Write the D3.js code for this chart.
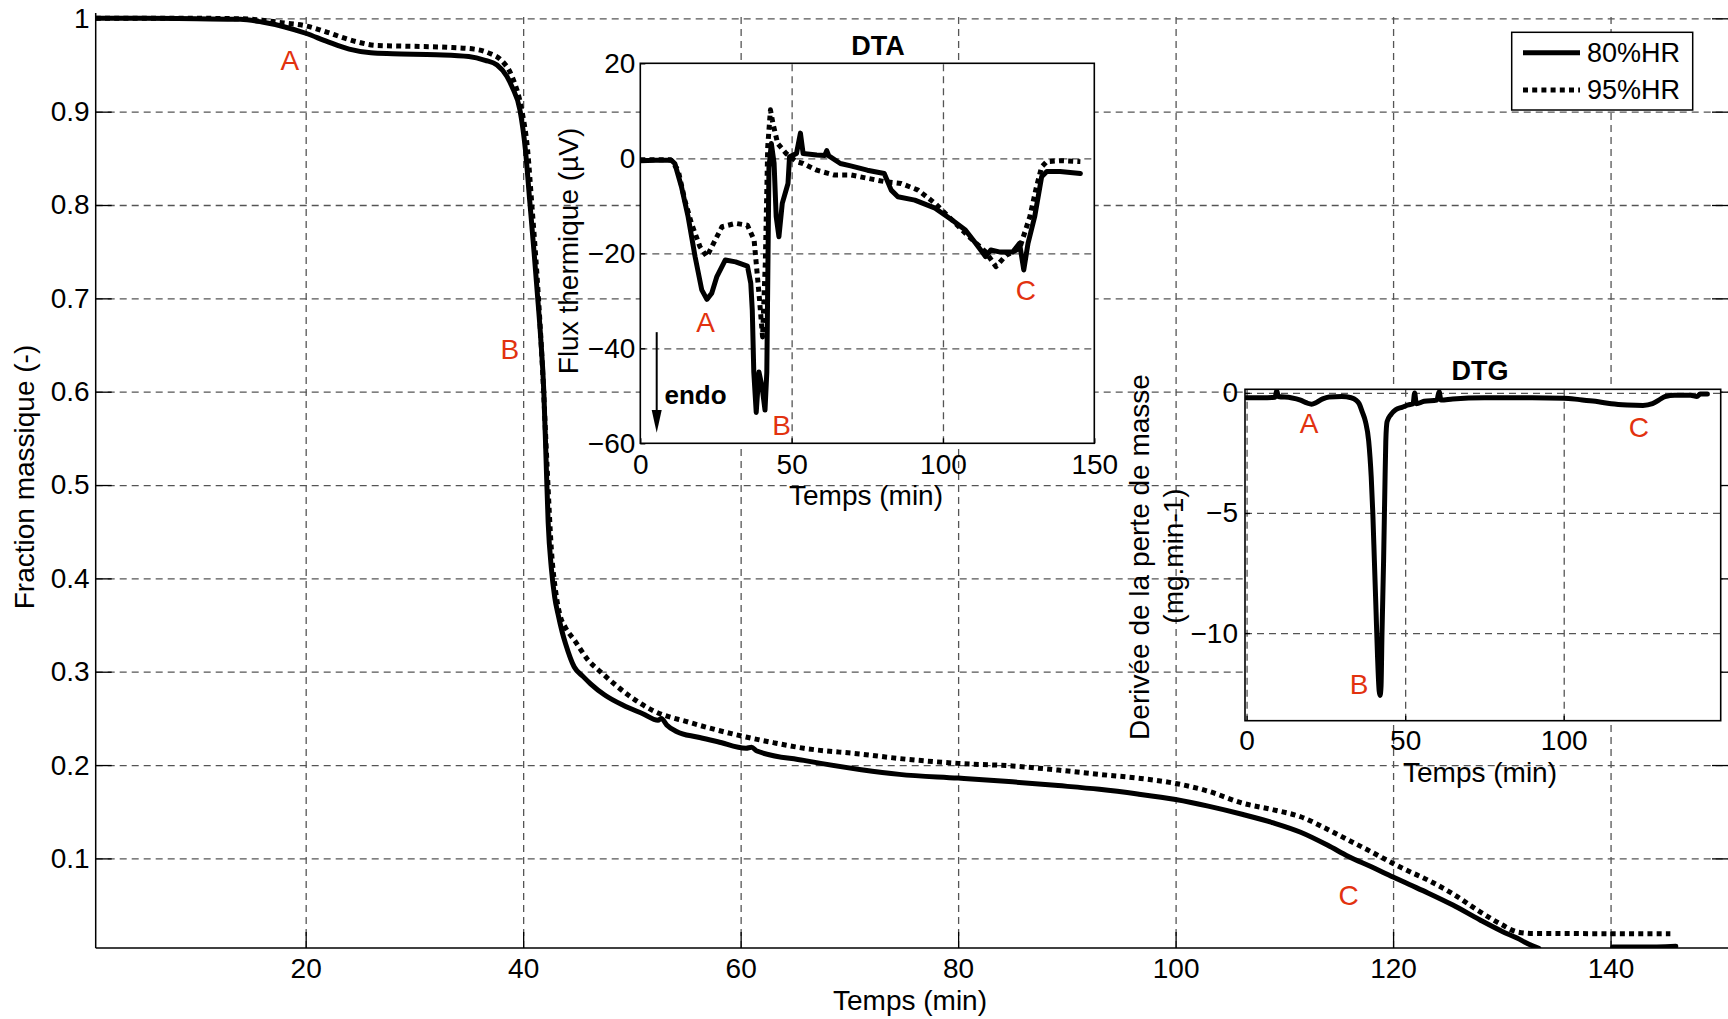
<!DOCTYPE html>
<html><head><meta charset="utf-8">
<script src="https://cdn.jsdelivr.net/npm/d3@7"></script>
<style>
body{margin:0;background:#fff;overflow:hidden;}
svg{display:block;}
text{font-family:"Liberation Sans",Arial,Helvetica,sans-serif;}
</style></head><body>
<svg id="chart" width="1728" height="1019"></svg>
<script>
// ---------- DATA ----------
const seriesNames = ["80%HR", "95%HR"];

// Main TG curve: [time (min), mass fraction]
const tg80 = [[0.7,1.0],[5,1.0],[10,0.9995],[14,0.999],[16,0.996],[18,0.991],[20,0.984],[22,0.975],[24,0.967],[26,0.963],[28,0.962],[32,0.961],[35,0.959],[36.5,0.955],[37.6,0.950],[38.5,0.938],[39.0,0.926],[39.7,0.902],[40.2,0.86],[40.6,0.805],[41.0,0.75],[41.3,0.706],[41.6,0.66],[41.9,0.60],[42.1,0.53],[42.3,0.46],[42.6,0.41],[42.9,0.38],[43.2,0.362],[43.6,0.342],[43.9,0.33],[44.7,0.305],[45.5,0.295],[46.2,0.287],[47.5,0.275],[49.2,0.264],[51,0.255],[52.4,0.248],[52.7,0.250],[53.2,0.243],[54.1,0.236],[56,0.230],[57.9,0.225],[60.5,0.218],[61,0.219],[61.5,0.215],[65.8,0.205],[71.1,0.195],[74.6,0.190],[80,0.186],[85,0.182],[89.2,0.178],[93,0.174],[96.5,0.169],[100,0.163],[103,0.156],[106.2,0.147],[109,0.138],[111.5,0.128],[114,0.114],[115.9,0.102],[118,0.091],[120,0.080],[121.5,0.072],[123.2,0.063],[125.5,0.050],[128,0.034],[130,0.022],[131.4,0.0146],[132.5,0.008],[133.4,0.0036],[136,null],[140.2,0.005],[143,0.005],[146,0.006]];
const tg95 = [[0.7,1.0],[10,1.0],[14,0.9995],[16,0.998],[18,0.995],[20,0.992],[22,0.985],[23.5,0.979],[25,0.974],[26.5,0.971],[30,0.970],[33,0.969],[35.5,0.967],[37,0.962],[38,0.955],[39,0.937],[39.9,0.90],[40.4,0.86],[40.8,0.80],[41.3,0.72],[41.8,0.62],[42.2,0.52],[42.6,0.43],[43.0,0.385],[43.4,0.36],[43.9,0.347],[44.7,0.334],[46,0.312],[47.3,0.298],[49.9,0.273],[52,0.258],[55.2,0.246],[58,0.237],[60.5,0.230],[63,0.224],[65.8,0.218],[71.1,0.2117],[74.6,0.207],[80,0.2018],[85,0.199],[89.2,0.1946],[93,0.19],[96.5,0.186],[100,0.1803],[103,0.172],[106.2,0.159],[109,0.152],[111.5,0.1446],[114,0.131],[115.9,0.1196],[118,0.107],[120,0.0946],[121.5,0.086],[123.2,0.0768],[125.5,0.062],[128,0.0428],[130,0.029],[131.4,0.0213],[132.9,0.0195],[135.3,0.0195],[140,0.0193],[145.5,0.0193]];

// DTA inset: [time (min), heat flux (µV)]
const dta80 = [[0,-0.5],[5,-0.4],[10.2,-0.4],[11.4,-1.1],[13.6,-6],[15.8,-12.3],[18.1,-20.7],[20.3,-27.7],[22,-29.7],[23.6,-28.4],[25.3,-24.9],[28.1,-21.4],[31.5,-21.8],[35.4,-22.7],[36.5,-26.3],[37.0,-32],[37.5,-45],[38.3,-53.5],[39.2,-45],[40.2,-48],[41.2,-53],[41.8,-45],[42.5,-2],[43.3,3.1],[44.2,-1],[44.9,-12.3],[45.8,-16.5],[46.9,-9.5],[48.8,-5.3],[49.3,0.3],[51.6,1],[52.9,5.3],[53.8,1],[58.3,0.7],[61.0,0.6],[61.6,1.6],[62.3,0.5],[66.1,-1.1],[69.5,-1.6],[75,-2.5],[80.6,-3.2],[82.9,-6.7],[85.1,-8.1],[90.7,-8.8],[97.4,-10.5],[103,-13],[107.4,-15.1],[110.8,-17.9],[114.1,-20.7],[115.8,-19.3],[118.6,-19.7],[123.1,-19.7],[125.3,-17.9],[126.7,-23.5],[128.1,-17.9],[130.3,-12.3],[132.6,-3.9],[134.3,-2.8],[138.7,-2.8],[145.4,-3.2]];
const dta95 = [[0,-0.3],[10,-0.3],[12.5,-2.5],[14.7,-8.8],[16.9,-13.7],[19.7,-18.6],[22,-20.7],[24.2,-17.9],[27,-14.4],[31.5,-13.7],[35.4,-14.1],[37.6,-17.2],[39.3,-29.1],[40.4,-37.6],[41.3,-22.1],[42.1,2.4],[43,10.2],[43.8,7.4],[45.4,3.1],[48.2,1],[51.6,-0.7],[53.8,-1.1],[58.3,-2.5],[63.9,-3.5],[69.5,-3.5],[75,-4.2],[80.6,-4.9],[86.2,-5.3],[91.8,-6.7],[97.4,-9.5],[103,-13],[108.6,-16.5],[114.1,-19.7],[117.5,-22.8],[120.9,-20.4],[125.3,-19],[128.7,-12.3],[130.9,-6],[132.6,-1.8],[134.3,-0.7],[138.7,-0.5],[145.4,-0.7]];

// DTG inset: [time (min), mass-loss derivative (mg/min)]
const dtg80 = [[0,-0.2],[5,-0.2],[9,-0.18],[9.5,0.1],[10,-0.15],[14,-0.2],[17,-0.3],[19,-0.42],[20.5,-0.47],[22,-0.4],[24,-0.25],[26,-0.17],[30,-0.15],[33,-0.2],[34.5,-0.3],[35.5,-0.45],[36.5,-0.8],[37.5,-1.2],[38.5,-2],[39.3,-3.5],[39.8,-5],[40.3,-7],[40.8,-9],[41.3,-11],[41.8,-12.4],[42.1,-12.6],[42.4,-12.2],[42.7,-10],[43.2,-7],[43.6,-4],[43.9,-2],[44.3,-1.2],[45.5,-0.9],[47,-0.7],[49,-0.6],[51,-0.5],[52.5,-0.45],[53,0.0],[53.5,-0.45],[56,-0.35],[60,-0.3],[60.7,0.05],[61.3,-0.3],[65,-0.25],[75,-0.2],[90,-0.2],[100,-0.22],[105,-0.28],[110,-0.35],[115,-0.45],[120,-0.5],[125,-0.52],[128,-0.45],[130,-0.3],[132,-0.15],[135,-0.1],[140,-0.1],[142,-0.15],[143,-0.05],[145.3,-0.05]];

// Tick values
const mainXTicks = [20, 40, 60, 80, 100, 120, 140];
const mainYTicks = [0.1, 0.2, 0.3, 0.4, 0.5, 0.6, 0.7, 0.8, 0.9, 1];
const dtaXTicks = [0, 50, 100, 150];
const dtaYTicks = [-60, -40, -20, 0, 20];
const dtaXGrid = [50, 100];
const dtaYGrid = [-40, -20, 0];
const dtgXTicks = [0, 50, 100];
const dtgYTicks = [-10, -5, 0];

// Peak annotations (data coordinates of each panel)
const mainPeaks = [["A",18.55,0.9553],["B",38.78,0.6457],["C",115.9,0.0607]];
const dtaPeaks = [["A",21.54,-34.57],["B",46.65,-56.15],["C",127.4,-27.7]];
const dtgPeaks = [["A",19.69,-1.25],["B",35.46,-12.12],["C",123.67,-1.445]];

// ---------- DRAWING ----------
const svg = d3.select("#chart");
const FS = 28, GRID = "#555", DASH = "7,5", RED = "#e2320f";
const LW = 5;

function grid(g, x, y, xs, ys, x0, x1, y0, y1) {
  const gg = g.append("g");
  gg.append("g").attr("transform", `translate(0,${y0})`)
    .call(d3.axisBottom(x).tickValues(xs).tickSize(-(y0 - y1)).tickFormat(""))
    .call(s => s.select(".domain").remove());
  gg.append("g").attr("transform", `translate(${x0},0)`)
    .call(d3.axisLeft(y).tickValues(ys).tickSize(-(x1 - x0)).tickFormat(""))
    .call(s => s.select(".domain").remove());
  gg.selectAll("line").attr("stroke", GRID).attr("stroke-width", 1.3).attr("stroke-dasharray", DASH);
}
function styleAxis(s) {
  s.selectAll("text").attr("font-size", FS).attr("font-family", "Liberation Sans, Arial, sans-serif").attr("fill", "#000");
  s.selectAll("line").attr("stroke", "#000").attr("stroke-width", 1.3);
  s.select(".domain").remove();
}
function lineGen(x, y, curve) {
  return d3.line().defined(d => d[1] != null).x(d => x(d[0])).y(d => y(d[1])).curve(curve);
}
function drawSeries(g, data, gen, dotted) {
  g.append("path").datum(data).attr("d", gen).attr("fill", "none").attr("stroke", "#000")
    .attr("stroke-width", LW).attr("stroke-linejoin", "round")
    .attr("stroke-linecap", dotted ? "butt" : "round")
    .attr("stroke-dasharray", dotted ? "5,4.2" : null);
}
function peaks(g, list, x, y) {
  g.selectAll(null).data(list).join("text")
    .attr("x", d => x(d[1])).attr("y", d => y(d[2])).attr("dy", "0.35em")
    .attr("text-anchor", "middle").attr("font-size", FS).attr("fill", RED).text(d => d[0]);
}

// ===== Main panel =====
const M = {l: 95.7, r: 1728, t: 13, b: 948};
const xM = d3.scaleLinear().domain([0.69, 150.8]).range([M.l, M.r]);
const yM = d3.scaleLinear().domain([0.004, 1.0057]).range([M.b, M.t]);
const gM = svg.append("g");
grid(gM, xM, yM, mainXTicks, mainYTicks, M.l, M.r, M.b, M.t);
gM.append("g").attr("transform", `translate(0,${M.b})`)
  .call(d3.axisBottom(xM).tickValues(mainXTicks).tickSize(-16).tickPadding(10).tickFormat(d3.format("d")))
  .call(styleAxis);
gM.append("g").attr("transform", `translate(${M.l},0)`)
  .call(d3.axisLeft(yM).tickValues(mainYTicks).tickSize(-16).tickPadding(6).tickFormat(d => d === 1 ? "1" : d3.format(".1f")(d)))
  .call(styleAxis);
gM.append("g").attr("transform", `translate(${M.r},0)`)
  .call(d3.axisRight(yM).tickValues(mainYTicks).tickSize(-16).tickFormat(""))
  .call(styleAxis);
gM.append("line").attr("x1", M.l).attr("x2", M.r).attr("y1", M.b).attr("y2", M.b).attr("stroke", "#000").attr("stroke-width", 1.5);
gM.append("line").attr("x1", M.l).attr("x2", M.l).attr("y1", M.t).attr("y2", M.b).attr("stroke", "#000").attr("stroke-width", 1.5);
svg.append("clipPath").attr("id", "clipM").append("rect").attr("x", M.l).attr("y", M.t - 8).attr("width", M.r - M.l).attr("height", M.b - M.t + 8);
const gML = gM.append("g").attr("clip-path", "url(#clipM)");
const genM = lineGen(xM, yM, d3.curveMonotoneX);
drawSeries(gML, tg95, genM, true);
drawSeries(gML, tg80, genM, false);
peaks(gM, mainPeaks, xM, yM);
gM.append("text").attr("x", 910).attr("y", 1000).attr("dy", "0.35em").attr("text-anchor", "middle").attr("font-size", FS).text("Temps (min)");
gM.append("text").attr("transform", "translate(24,477) rotate(-90)").attr("dy", "0.35em").attr("text-anchor", "middle").attr("font-size", FS).text("Fraction massique (-)");

// ===== Inset builder =====
function inset(cfg) {
  const g = svg.append("g");
  const {x, y, box} = cfg;
  g.append("rect").attr("x", box.l).attr("y", box.t).attr("width", box.r - box.l).attr("height", box.b - box.t).attr("fill", "#fff");
  grid(g, x, y, cfg.xGrid, cfg.yGrid, box.l, box.r, box.b, box.t);
  g.append("g").attr("transform", `translate(0,${box.b})`)
    .call(d3.axisBottom(x).tickValues(cfg.xTicks).tickSize(-5).tickPadding(cfg.xPad).tickFormat(d3.format("d")))
    .call(styleAxis);
  g.append("g").attr("transform", `translate(${box.l},0)`)
    .call(d3.axisLeft(y).tickValues(cfg.yTicks).tickSize(-5).tickPadding(cfg.yPad).tickFormat(d3.format("d")))
    .call(styleAxis);
  const id = "clip" + cfg.name;
  svg.append("clipPath").attr("id", id).append("rect").attr("x", box.l).attr("y", box.t).attr("width", box.r - box.l).attr("height", box.b - box.t);
  const gl = g.append("g").attr("clip-path", `url(#${id})`);
  const gen = lineGen(x, y, cfg.curve);
  cfg.series.forEach(s => drawSeries(gl, s[0], gen, s[1]));
  g.append("rect").attr("x", box.l).attr("y", box.t).attr("width", box.r - box.l).attr("height", box.b - box.t)
    .attr("fill", "none").attr("stroke", "#000").attr("stroke-width", 1.6);
  g.append("text").attr("x", cfg.title[1]).attr("y", cfg.title[2]).attr("dy", "0.35em").attr("text-anchor", "middle")
    .attr("font-size", 27).attr("font-weight", "bold").text(cfg.title[0]);
  g.append("text").attr("x", cfg.xlab[1]).attr("y", cfg.xlab[2]).attr("dy", "0.35em").attr("text-anchor", "middle")
    .attr("font-size", FS).text(cfg.xlab[0]);
  cfg.ylab.forEach(l => {
    g.append("text").attr("transform", `translate(${l[1]},${l[2]}) rotate(-90)`).attr("dy", "0.35em")
      .attr("text-anchor", "middle").attr("font-size", FS).text(l[0]);
  });
  peaks(g, cfg.peaks, x, y);
  return g;
}

// DTA
const boxA = {l: 640.3, r: 1094.3, t: 63.3, b: 443.3};
const xA = d3.scaleLinear().domain([0, 150]).range([boxA.l, boxA.r]);
const yA = d3.scaleLinear().domain([-60, 20]).range([boxA.b, boxA.t]);
const gA = inset({name: "A", x: xA, y: yA, box: boxA, xGrid: dtaXGrid, yGrid: dtaYGrid, xTicks: dtaXTicks, yTicks: dtaYTicks,
  xPad: 11, yPad: 5, curve: d3.curveLinear, series: [[dta95, true], [dta80, false]],
  title: ["DTA", 878, 46], xlab: ["Temps (min)", 866, 495], ylab: [["Flux thermique (µV)", 568, 251]], peaks: dtaPeaks});
// endo arrow
gA.append("line").attr("x1", xA(5.42)).attr("x2", xA(5.42)).attr("y1", yA(-36.6)).attr("y2", yA(-54)).attr("stroke", "#000").attr("stroke-width", 2);
gA.append("path").attr("d", `M${xA(5.42) - 5},${yA(-53)} L${xA(5.42) + 5},${yA(-53)} L${xA(5.42)},${yA(-57.8)} Z`).attr("fill", "#000");
gA.append("text").attr("x", xA(8.0)).attr("y", yA(-49.8)).attr("dy", "0.35em").attr("font-size", 26).attr("font-weight", "bold").text("endo");

// DTG
const boxG = {l: 1245, r: 1720.7, t: 389.3, b: 720.7};
const xG = d3.scaleLinear().domain([-0.5, 149.5]).range([boxG.l, boxG.r]);
const yG = d3.scaleLinear().domain([-13.65, 0.15]).range([boxG.b, boxG.t]);
inset({name: "G", x: xG, y: yG, box: boxG, xGrid: [0, 50, 100], yGrid: dtgYTicks, xTicks: dtgXTicks, yTicks: dtgYTicks,
  xPad: 9, yPad: 7, curve: d3.curveMonotoneX, series: [[dtg80, false]],
  title: ["DTG", 1480, 371], xlab: ["Temps (min)", 1480, 772],
  ylab: [["Derivée de la perte de masse", 1139, 557], ["(mg.min-1)", 1173, 556]], peaks: dtgPeaks});

// ===== Legend =====
const lg = svg.append("g");
lg.append("rect").attr("x", 1511.7).attr("y", 32.3).attr("width", 181).attr("height", 77.7).attr("fill", "#fff").attr("stroke", "#000").attr("stroke-width", 1.5);
seriesNames.forEach((n, i) => {
  const yy = 52.7 + i * 37.3;
  lg.append("line").attr("x1", 1523).attr("x2", 1580).attr("y1", yy).attr("y2", yy).attr("stroke", "#000")
    .attr("stroke-width", LW).attr("stroke-dasharray", i ? "5,4.2" : null);
  lg.append("text").attr("x", 1587).attr("y", yy).attr("dy", "0.35em").attr("font-size", 27).text(n);
});
</script>
</body></html>
